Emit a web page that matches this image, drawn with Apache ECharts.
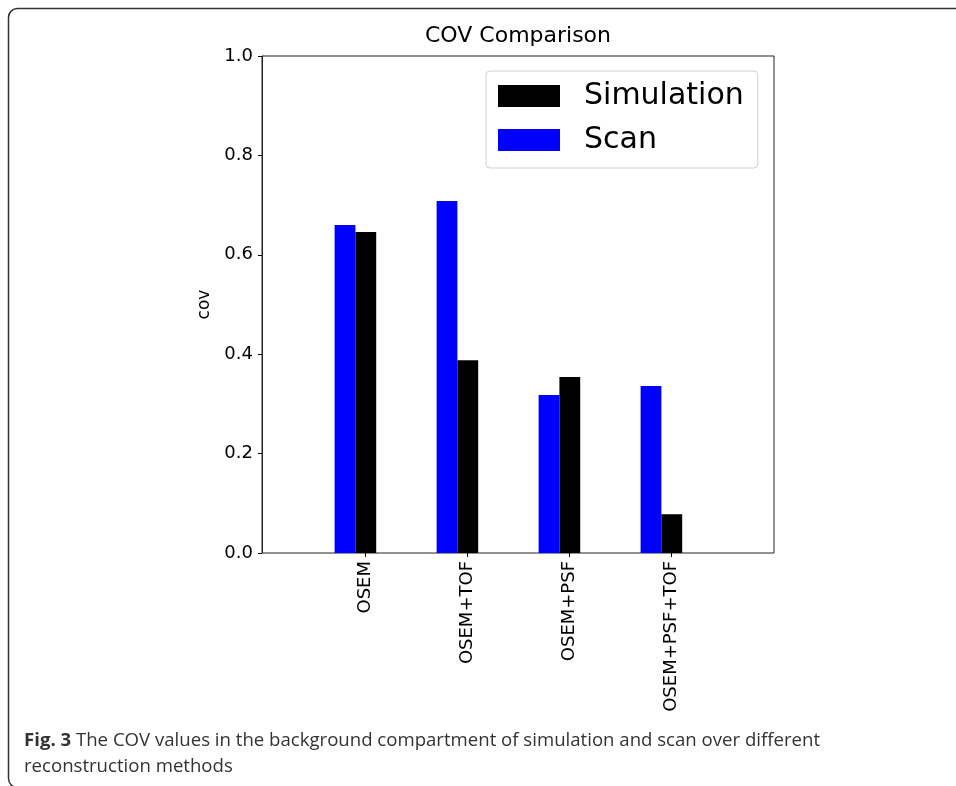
<!DOCTYPE html>
<html>
<head>
<meta charset="utf-8">
<script src="https://cdn.jsdelivr.net/npm/echarts@6/dist/echarts.min.js"></script>
<style>
html,body{margin:0;padding:0;background:#fff;}
#chart{width:956px;height:786px;}
</style>
</head>
<body>
<div id="chart"></div>
<script>
var categories = ['OSEM', 'OSEM+TOF', 'OSEM+PSF', 'OSEM+PSF+TOF'];
var scanValues = [0.660, 0.708, 0.318, 0.336];
var simulationValues = [0.646, 0.388, 0.354, 0.078];
var yTicks = [0.0, 0.2, 0.4, 0.6, 0.8, 1.0];

var chart = echarts.init(document.getElementById('chart'), null, {renderer: 'canvas'});
var font = 'DejaVu Sans';
var option = {
  animation: false,
  backgroundColor: '#fff',
  title: {
    text: 'COV Comparison',
    left: 513, top: 20,
    textAlign: 'center',
    textStyle: {fontFamily: font, fontSize: 22, fontWeight: 'normal', color: '#000'}
  },
  legend: {
    data: ['Simulation', 'Scan'],
    orient: 'vertical',
    left: 486, top: 71,
    padding: [10, 14, 13, 12],
    itemWidth: 62, itemHeight: 22, itemGap: 14,
    borderColor: '#d0d0d0', borderWidth: 1, borderRadius: 4,
    backgroundColor: '#fff',
    selectedMode: false,
    textStyle: {fontFamily: font, fontSize: 30, color: '#000', padding: [0, 0, 0, 19]},
    icon: 'rect'
  },
  grid: [
    {left: 262, top: 56, width: 512, height: 497, show: true, borderColor: '#222', borderWidth: 1, backgroundColor: 'transparent'},
    {left: 314.7, top: 56, width: 408, height: 497},
    {left: 304.4, top: 56, width: 408, height: 497}
  ],
  xAxis: [
    {gridIndex: 0, type: 'value', min: 0, max: 1, show: false},
    {gridIndex: 1, type: 'category', data: categories,
      axisLine: {show: false},
      axisTick: {show: true, alignWithLabel: true, length: 4, lineStyle: {color: '#000'}},
      axisLabel: {rotate: 90, fontFamily: font, fontSize: 18, color: '#000', margin: 8}
    },
    {gridIndex: 2, type: 'category', data: categories, show: false}
  ],
  yAxis: [
    {gridIndex: 0, type: 'value', min: 0, max: 1, interval: 0.2,
      name: 'cov', nameLocation: 'middle', nameGap: 44,
      nameTextStyle: {fontFamily: font, fontSize: 17, color: '#000'},
      axisLine: {show: true, lineStyle: {color: '#222'}},
      axisTick: {show: true, length: 4, lineStyle: {color: '#000'}},
      axisLabel: {fontFamily: font, fontSize: 18, color: '#000', margin: 9,
        formatter: function (v) { return v.toFixed(1); }},
      splitLine: {show: false}
    },
    {gridIndex: 1, type: 'value', min: 0, max: 1, show: false},
    {gridIndex: 2, type: 'value', min: 0, max: 1, show: false}
  ],
  series: [
    {name: 'Scan', type: 'bar', xAxisIndex: 2, yAxisIndex: 2, data: scanValues,
      barWidth: 20.8, barGap: '0%', itemStyle: {color: '#0000ff'}},
    {name: 'Simulation', type: 'bar', xAxisIndex: 2, yAxisIndex: 2, data: simulationValues,
      barWidth: 20.8, barGap: '0%', itemStyle: {color: '#000000'}}
  ],
  graphic: [
    {type: 'rect', shape: {x: 8.5, y: 8.5, width: 1000, height: 779, r: 9},
      style: {fill: 'none', stroke: '#333', lineWidth: 1.5}, silent: true, z: -1},
    {type: 'text', left: 24, top: 727,
      style: {
        text: '{b|Fig. 3} The COV values in the background compartment of simulation and scan over different\nreconstruction methods',
        fontFamily: 'Open Sans', fontSize: 18.6, fill: '#333', lineHeight: 26.5,
        rich: {b: {fontFamily: 'Open Sans', fontSize: 18.6, fontWeight: 'bold', fill: '#333', lineHeight: 26.5}}
      }}
  ]
};
chart.setOption(option);
</script>
</body>
</html>
